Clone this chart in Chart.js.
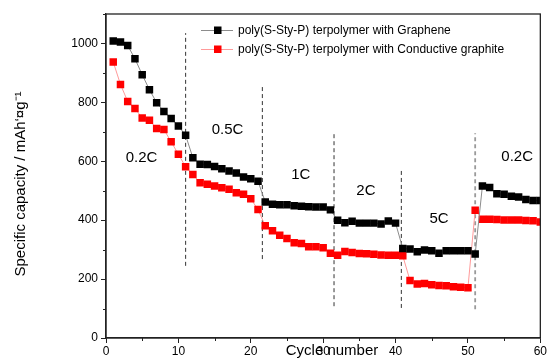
<!DOCTYPE html>
<html>
<head>
<meta charset="utf-8">
<script src="https://cdn.jsdelivr.net/npm/chart.js@4/dist/chart.umd.min.js"></script>
<style>
  html, body { margin: 0; padding: 0; background: #fff; }
  #wrap { width: 548px; height: 360px; }
</style>
</head>
<body>
<div id="wrap"><canvas id="chart"></canvas></div>
<script>
// Rate capability: specific capacity vs cycle number

const cycles = [1, 2, 3, 4, 5, 6, 7, 8, 9, 10, 11, 12, 13, 14, 15, 16, 17, 18, 19, 20,
  21, 22, 23, 24, 25, 26, 27, 28, 29, 30, 31, 32, 33, 34, 35, 36, 37, 38, 39, 40,
  41, 42, 43, 44, 45, 46, 47, 48, 49, 50, 51, 52, 53, 54, 55, 56, 57, 58, 59, 60];

const graphene = [1008, 1005, 993, 948, 894, 843, 799, 769, 745, 720,
  688, 612, 590, 589, 582, 575, 567, 560, 547, 541,
  532, 462, 454, 452, 452, 449, 447, 446, 445, 445,
  435, 400, 391, 396, 390, 390, 390, 387, 397, 390,
  304, 302, 293, 299, 296, 288, 296, 296, 296, 296,
  285, 516, 511, 490, 488, 481, 479, 470, 467, 467];

const condGraphite = [937, 861, 803, 779, 747, 739, 711, 708, 666, 624,
  581, 555, 527, 522, 516, 510, 505, 493, 488, 473,
  436, 381, 364, 349, 338, 323, 321, 310, 310, 306,
  288, 281, 294, 290, 287, 286, 284, 282, 281, 281,
  279, 195, 183, 185, 181, 178, 177, 174, 172, 171,
  434, 403, 403, 402, 401, 401, 401, 399, 398, 394];

const seriesNames = [
  "poly(S-Sty-P) terpolymer with Graphene",
  "poly(S-Sty-P) terpolymer with Conductive graphite",
];

// dashed separators between current-rate steps
const dividerCycle = [11, 21.6, 31.5, 40.8, 51];
const dividerTop = [1035, 860, 700, 575, 695];
const dividerBottom = [245, 268, 108, 102, 98];

// rate annotations
const rateText = ["0.2C", "0.5C", "1C", "2C", "5C", "0.2C"];
const rateX = [4.9, 16.8, 26.9, 35.9, 46.0, 56.8];
const rateY = [613, 705, 555, 500, 405, 615];

const xTicks = [0, 10, 20, 30, 40, 50, 60];
const yTicks = [0, 200, 400, 600, 800, 1000];
const xMinor = [5, 15, 25, 35, 45, 55];
const yMinor = [100, 300, 500, 700, 900, 1100];

const FONT = "'Liberation Sans', Arial, sans-serif";

const pts = (ys) => cycles.map((c, i) => ({ x: c, y: ys[i] }));

const datasets = [
  {
    label: seriesNames[0],
    data: pts(graphene),
    borderColor: "#8c8c8c",
    borderWidth: 1,
    pointStyle: "rect",
    pointRadius: 5.3,
    pointBackgroundColor: "#000000",
    pointBorderColor: "#000000",
    pointBorderWidth: 0,
    order: 1,
  },
  {
    label: seriesNames[1],
    data: pts(condGraphite),
    borderColor: "#ff9a9a",
    borderWidth: 1,
    pointStyle: "rect",
    pointRadius: 5.3,
    pointBackgroundColor: "#ff0000",
    pointBorderColor: "#ff0000",
    pointBorderWidth: 0,
    order: 2,
  },
];

dividerCycle.forEach((c, i) => {
  const last = i === dividerCycle.length - 1;
  datasets.push({
    label: "divider" + i,
    data: [{ x: c, y: dividerBottom[i] }, { x: c, y: dividerTop[i] }],
    borderColor: last ? "#9a9a9a" : "#333333",
    borderWidth: last ? 1.8 : 1,
    borderDash: [4, 3],
    pointRadius: 0,
    order: 5,
  });
});

// frame, minor ticks, annotations, legend, axis titles
const decor = {
  id: "decor",
  afterDraw(chart) {
    const { ctx, chartArea: a, scales } = chart;
    const xs = scales.x, ys = scales.y;
    ctx.save();
    ctx.strokeStyle = "#222";
    ctx.lineWidth = 1.3;
    ctx.strokeRect(a.left, a.top, a.right - a.left, a.bottom - a.top);

    ctx.lineWidth = 1;
    ctx.beginPath();
    xMinor.forEach((v) => {
      const px = Math.round(xs.getPixelForValue(v)) + 0.5;
      ctx.moveTo(px, a.bottom);
      ctx.lineTo(px, a.bottom + 3);
    });
    yMinor.forEach((v) => {
      const py = Math.round(ys.getPixelForValue(v)) + 0.5;
      ctx.moveTo(a.left, py);
      ctx.lineTo(a.left - 3, py);
    });
    ctx.stroke();

    ctx.fillStyle = "#000";
    ctx.font = "15px " + FONT;
    ctx.textAlign = "center";
    ctx.textBaseline = "middle";
    rateText.forEach((t, i) => {
      ctx.fillText(t, xs.getPixelForValue(rateX[i]), ys.getPixelForValue(rateY[i]));
    });

    // legend
    ctx.font = "12px " + FONT;
    ctx.textAlign = "left";
    [30, 49].forEach((ly, i) => {
      const ds = chart.data.datasets[i];
      ctx.strokeStyle = ds.borderColor;
      ctx.lineWidth = 1;
      ctx.beginPath();
      ctx.moveTo(201, ly + 0.5);
      ctx.lineTo(233, ly + 0.5);
      ctx.stroke();
      ctx.fillStyle = ds.pointBackgroundColor;
      ctx.fillRect(214, ly - 3.5, 7.5, 7.5);
      ctx.fillStyle = "#000";
      ctx.fillText(ds.label, 238, ly + 1);
    });

    ctx.font = "15px " + FONT;
    ctx.textAlign = "center";
    ctx.fillText("Cycle number", 332, 351);

    ctx.translate(21, 184);
    ctx.rotate(-Math.PI / 2);
    ctx.fillText("Specific capacity / mAh\u2018\u00A4g\u207B\u00B9", 0, 0);
    ctx.restore();
  },
};

new Chart(document.getElementById("chart"), {
  type: "line",
  data: { datasets },
  options: {
    responsive: true,
    maintainAspectRatio: false,
    animation: false,
    layout: { padding: { left: 0, right: 5, top: 14, bottom: 0 } },
    plugins: { legend: { display: false }, tooltip: { enabled: false } },
    scales: {
      x: {
        type: "linear",
        min: 0,
        max: 60,
        afterBuildTicks: (s) => { s.ticks = xTicks.map((v) => ({ value: v })); },
        afterFit: (s) => { s.height = 22; },
        ticks: { color: "#000", font: { size: 12, family: FONT }, padding: 1, maxRotation: 0, callback: (v) => String(v) },
        grid: { drawOnChartArea: false, tickLength: 5, color: "#222", tickColor: "#222" },
        border: { display: true, color: "#222", width: 1.3 },
      },
      y: {
        min: 0,
        max: 1100,
        afterBuildTicks: (s) => { s.ticks = yTicks.map((v) => ({ value: v })); },
        afterFit: (s) => { s.width = 106; },
        ticks: { color: "#000", font: { size: 12, family: FONT }, padding: 3, callback: (v) => String(v) },
        grid: { drawOnChartArea: false, tickLength: 5, color: "#222", tickColor: "#222" },
        border: { display: true, color: "#222", width: 1.3 },
      },
    },
  },
  plugins: [decor],
});
</script>
</body>
</html>
